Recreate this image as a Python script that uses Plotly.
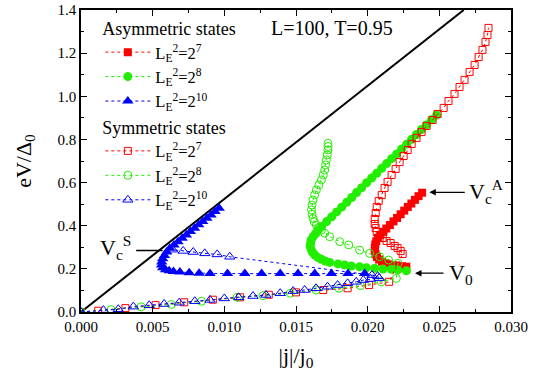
import plotly.graph_objects as go

# ---------------- data ----------------
line_j = [0.0, 0.0267]
line_V = [0.0, 1.4]

# Asymmetric states
asym7_j = [0.02380, 0.02355, 0.02330, 0.02305, 0.02280, 0.02255, 0.02230, 0.02205, 0.02180, 0.02155,
           0.02130, 0.02110, 0.02090, 0.02072, 0.02060, 0.02053, 0.02050, 0.02050, 0.02055, 0.02065,
           0.02080, 0.02100, 0.02125, 0.02150, 0.02180, 0.02210, 0.02240, 0.02270]
asym7_V = [0.553, 0.537, 0.520, 0.503, 0.487, 0.470, 0.453, 0.436, 0.420, 0.403,
           0.387, 0.372, 0.358, 0.343, 0.328, 0.313, 0.298, 0.283, 0.268, 0.255,
           0.243, 0.233, 0.226, 0.221, 0.217, 0.214, 0.212, 0.210]

asym8_j = [0.02481, 0.02446, 0.02411, 0.02376, 0.02341, 0.02307, 0.02272, 0.02237, 0.02202, 0.02167,
           0.02132, 0.02098, 0.02063, 0.02028, 0.01993, 0.01958, 0.01923, 0.01889, 0.01854, 0.01819,
           0.01784, 0.01749, 0.01714, 0.01679, 0.01652, 0.01638, 0.01619, 0.01606, 0.01601, 0.01599,
           0.01608, 0.01617, 0.01631, 0.01652, 0.01677, 0.01704, 0.01735,
           0.01793, 0.01840, 0.01886, 0.01944, 0.01991, 0.02049, 0.02107, 0.02165, 0.02211, 0.02270]
asym8_V = [0.913, 0.891, 0.868, 0.846, 0.823, 0.801, 0.778, 0.756, 0.733, 0.711,
           0.688, 0.666, 0.643, 0.621, 0.599, 0.576, 0.554, 0.531, 0.509, 0.486,
           0.464, 0.441, 0.419, 0.396, 0.378, 0.364, 0.349, 0.334, 0.318, 0.304,
           0.287, 0.275, 0.264, 0.253, 0.244, 0.236, 0.230,
           0.223, 0.218, 0.213, 0.210, 0.205, 0.203, 0.199, 0.198, 0.195, 0.191]

asym10_j = [0.00964, 0.00935, 0.00907, 0.00878, 0.00849, 0.00821, 0.00792, 0.00763, 0.00735, 0.00706,
            0.00677, 0.00649, 0.00620, 0.00598, 0.00582, 0.00570, 0.00563, 0.00562, 0.00570, 0.00590,
            0.00615, 0.00645, 0.00690, 0.00755, 0.00824, 0.00900, 0.01022, 0.01143, 0.01260, 0.01390,
            0.01514, 0.01631, 0.01747, 0.01863, 0.01979]
asym10_V = [0.481, 0.466, 0.450, 0.435, 0.419, 0.404, 0.388, 0.373, 0.357, 0.342,
            0.326, 0.311, 0.295, 0.278, 0.262, 0.247, 0.232, 0.218, 0.205, 0.196,
            0.191, 0.188, 0.186, 0.182, 0.180, 0.179, 0.178, 0.178, 0.178, 0.178,
            0.178, 0.178, 0.178, 0.178, 0.178]

# Symmetric states
sym7_j = [0.0, 0.0012, 0.0031, 0.0052, 0.0072, 0.0092, 0.0111, 0.0131, 0.0150, 0.0169, 0.0186, 0.0201, 0.0215,
          0.02244, 0.02230, 0.02209, 0.02188, 0.02160, 0.02132, 0.02105, 0.02084, 0.02063, 0.02056, 0.02049,
          0.02049, 0.02056, 0.02063, 0.02077, 0.02098, 0.02118, 0.02139, 0.02167, 0.02195, 0.02223, 0.02251,
          0.02279, 0.02307, 0.02341, 0.02376, 0.02411, 0.02453, 0.02488, 0.02530, 0.02564, 0.02606, 0.02641,
          0.02676, 0.02711, 0.02746, 0.02774, 0.02801, 0.02822, 0.02836, 0.02843]
sym7_V = [0.0, 0.006, 0.018, 0.032, 0.045, 0.057, 0.068, 0.080, 0.091, 0.102, 0.110, 0.125, 0.140,
          0.269, 0.283, 0.297, 0.306, 0.320, 0.329, 0.343, 0.357, 0.371, 0.389, 0.408,
          0.431, 0.459, 0.487, 0.515, 0.542, 0.575, 0.603, 0.635, 0.663, 0.695, 0.723,
          0.751, 0.779, 0.807, 0.834, 0.862, 0.890, 0.918, 0.946, 0.978, 1.011, 1.043,
          1.076, 1.113, 1.145, 1.182, 1.215, 1.252, 1.284, 1.317]

sym8_j = [0.0, 0.0021, 0.0042, 0.0063, 0.0084, 0.0109, 0.0127, 0.0146, 0.0164, 0.0180, 0.0195, 0.02095, 0.0220,
          0.02211, 0.02146, 0.02084, 0.02014, 0.01944, 0.01868, 0.01805, 0.01735,
          0.01700, 0.01677, 0.01658, 0.01642, 0.01628, 0.01619, 0.01612, 0.01608, 0.01612, 0.01619,
          0.01630, 0.01642, 0.01660, 0.01677, 0.01690, 0.01700, 0.01706, 0.01712, 0.01718, 0.01723,
          0.01724, 0.01723]
sym8_V = [0.0, 0.011, 0.024, 0.035, 0.050, 0.068, 0.076, 0.087, 0.102, 0.110, 0.122, 0.140, 0.156,
          0.226, 0.241, 0.256, 0.272, 0.287, 0.311, 0.326, 0.349,
          0.366, 0.380, 0.392, 0.403, 0.418, 0.434, 0.453, 0.473, 0.496, 0.519,
          0.543, 0.566, 0.589, 0.612, 0.635, 0.658, 0.682, 0.705, 0.728, 0.751,
          0.767, 0.782]

sym10_j = [0.0, 0.00156, 0.0026, 0.00365, 0.00476, 0.0058, 0.00685, 0.00794, 0.0090, 0.0100, 0.0110,
           0.0120, 0.0129, 0.0139, 0.0148, 0.0156, 0.0164, 0.0172, 0.0179, 0.0186, 0.0192, 0.0197,
           0.0202, 0.0208, 0.0207, 0.0203,
           0.01038, 0.0095, 0.00864, 0.00783, 0.00713, 0.00639]
sym10_V = [0.0, 0.009, 0.013, 0.025, 0.031, 0.037, 0.043, 0.050, 0.056, 0.063, 0.068,
           0.074, 0.079, 0.087, 0.097, 0.102, 0.110, 0.117, 0.125, 0.133, 0.140, 0.148,
           0.153, 0.157, 0.166, 0.171,
           0.256, 0.267, 0.272, 0.278, 0.283, 0.289]

label7 = "L<sub>E</sub><sup>2</sup>=2<sup>7</sup>"
label8 = "L<sub>E</sub><sup>2</sup>=2<sup>8</sup>"
label10 = "L<sub>E</sub><sup>2</sup>=2<sup>10</sup>"

RED = "#ff0000"
GREEN = "#22ee00"
BLUE = "#0000ff"
FONT = "Times New Roman, Liberation Serif, DejaVu Serif, serif"

fig = go.Figure()

fig.add_trace(go.Scatter(x=line_j, y=line_V, mode="lines", line=dict(color="black", width=2),
                         showlegend=False, hoverinfo="skip"))

def add(xs, ys, name, color, symbol, size, legend, lw=0):
    fig.add_trace(go.Scatter(
        x=xs, y=ys, name=name, mode="lines+markers", legend=legend,
        line=dict(color=color, width=1, dash="dot"),
        marker=dict(color=color, symbol=symbol, size=size, line=dict(color=color, width=lw)),
    ))

add(asym7_j, asym7_V, label7, RED, "square", 8, "legend")
add(asym8_j, asym8_V, label8, GREEN, "circle", 9, "legend")
add(asym10_j, asym10_V, label10, BLUE, "triangle-up", 10, "legend")
add(sym7_j, sym7_V, label7, RED, "square-open", 7, "legend2", 1)
add(sym8_j, sym8_V, label8, GREEN, "circle-open", 8, "legend2", 1)
add(sym10_j, sym10_V, label10, BLUE, "triangle-up-open", 9, "legend2", 1)

axis_common = dict(
    showline=True, linecolor="black", linewidth=1.5, mirror="ticks",
    ticks="inside", ticklen=6, tickwidth=1, tickcolor="black",
    showgrid=False, zeroline=False, automargin=False,
    tickfont=dict(family=FONT, size=15, color="black"),
)

fig.update_xaxes(range=[0, 0.030], dtick=0.005, tick0=0, tickformat=".3f",
                 minor=dict(ticks="inside", ticklen=3, dtick=0.0025, tickcolor="black"),
                 title=dict(text="|j|/j<sub>0</sub>", font=dict(family=FONT, size=22, color="black"), standoff=14),
                 **axis_common)
fig.update_yaxes(range=[0, 1.4], dtick=0.2, tick0=0, tickformat=".1f",
                 minor=dict(ticks="inside", ticklen=3, dtick=0.1, tickcolor="black"),
                 title=dict(text="eV/Δ<sub>0</sub>", font=dict(family=FONT, size=22, color="black"), standoff=20),
                 **axis_common)

legend_common = dict(
    bgcolor="rgba(0,0,0,0)", borderwidth=0, xanchor="left", yanchor="top",
    font=dict(family=FONT, size=16.5, color="black"), tracegroupgap=0, itemwidth=45,
)
fig.update_layout(
    width=542, height=377,
    margin=dict(l=81, r=31, t=10, b=65),
    paper_bgcolor="white", plot_bgcolor="white",
    legend=dict(x=0.045, y=0.995, title=dict(text="Asymmetric states", font=dict(family=FONT, size=18)),
                **legend_common),
    legend2=dict(x=0.045, y=0.668, title=dict(text="Symmetric states", font=dict(family=FONT, size=18)),
                 **legend_common),
    annotations=[
        dict(x=0.0175, y=1.315, xref="x", yref="y", text="L=100, T=0.95", showarrow=False,
             font=dict(family=FONT, size=20, color="black"), xanchor="center", yanchor="middle"),
        dict(x=0.0243, y=0.555, xref="x", yref="y", text="", showarrow=True, arrowhead=2,
             arrowsize=1, arrowwidth=1.3, arrowcolor="black", ax=37, ay=0),
        dict(x=0.0269, y=0.56, xref="x", yref="y", text="V<sub>c</sub><sup>A</sup>", showarrow=False,
             font=dict(family=FONT, size=22, color="black"), xanchor="left", yanchor="middle"),
        dict(x=0.0233, y=0.18, xref="x", yref="y", text="", showarrow=True, arrowhead=2,
             arrowsize=1, arrowwidth=1.3, arrowcolor="black", ax=30, ay=0),
        dict(x=0.0255, y=0.175, xref="x", yref="y", text="V<sub>0</sub>", showarrow=False,
             font=dict(family=FONT, size=22, color="black"), xanchor="left", yanchor="middle"),
        dict(x=0.0057, y=0.285, xref="x", yref="y", text="", showarrow=True, arrowhead=0,
             arrowwidth=1.3, arrowcolor="black", ax=-28, ay=0),
        dict(x=0.0036, y=0.30, xref="x", yref="y", text="V<sub>c</sub><sup>S</sup>", showarrow=False,
             font=dict(family=FONT, size=22, color="black"), xanchor="right", yanchor="middle"),
    ],
)

fig.write_html("out.html", config={"displayModeBar": False},
               post_script="document.body.style.margin='0px';")
